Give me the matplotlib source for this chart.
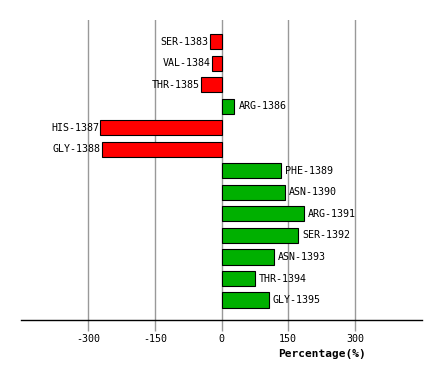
import numpy as np
import matplotlib.pyplot as plt

residues = ["SER-1383", "VAL-1384", "THR-1385", "ARG-1386", "HIS-1387", "GLY-1388",
            "PHE-1389", "ASN-1390", "ARG-1391", "SER-1392", "ASN-1393", "THR-1394", "GLY-1395"]
values = [-27, -22, -45, 29, -272, -268, 134, 143, 185, 172, 118, 75, 106]
xticks = [-300, -150, 0, 150, 300]
xtick_labels = ["-300", "-150", "0", "150", "300"]

fig = plt.figure(figsize=(4.41, 3.81), dpi=100)
ax = fig.add_axes([0.0483, 0.160, 0.908, 0.7874])

y = np.arange(len(residues))
colors = ["#ff0000" if v < 0 else "#00b000" for v in values]

ax.set_xlim(-450, 450)
ax.set_ylim(12.93, -1.01)
ax.set_xticks(xticks)
ax.set_xticklabels(xtick_labels, family="DejaVu Sans Mono", fontsize=7.2)
ax.set_yticks([])
ax.grid(axis="x", color="#999999", linewidth=1)
ax.set_axisbelow(True)
ax.tick_params(axis="x", length=8, width=1, color="#999999", pad=2)

bars = ax.barh(y, values, height=0.7, color=colors, edgecolor="black", linewidth=0.8, zorder=3)

for yi, v, name in zip(y, values, residues):
    if v < 0:
        ax.annotate(name, (v, yi), xytext=(-1, 0), textcoords="offset points",
                    ha="right", va="center", family="DejaVu Sans Mono", fontsize=7.2)
    else:
        ax.annotate(name, (v, yi), xytext=(3, 0), textcoords="offset points",
                    ha="left", va="center", family="DejaVu Sans Mono", fontsize=7.2)

for s in ["top", "left", "right"]:
    ax.spines[s].set_visible(False)
ax.spines["bottom"].set_linewidth(1)
ax.spines["bottom"].set_zorder(4)

fig.text(321.7 / 441, 1 - 354 / 381, "Percentage(%)", ha="center", va="center",
         family="DejaVu Sans Mono", fontsize=8, fontweight="bold")

fig.savefig("out.png", dpi=100)
